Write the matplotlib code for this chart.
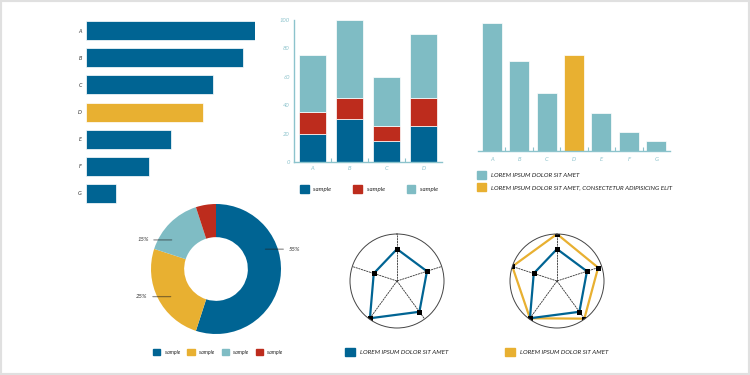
"""Dashboard-style infographic: bars, stacked bars, donut and two radars."""

import numpy as np
import matplotlib.pyplot as plt
from matplotlib.patches import Patch, Rectangle

# ---- data ----
hbar_cats = ["A", "B", "C", "D", "E", "F", "G"]
hbar_vals = [100, 93, 75, 69, 50, 37, 18]
hbar_highlight = "D"

stack_cats = ["A", "B", "C", "D"]
stack_bottom = [20, 30, 15, 25]
stack_mid = [15, 15, 10, 20]
stack_top = [40, 55, 35, 45]
stack_labels = ["sample", "sample", "sample"]

col_cats = ["A", "B", "C", "D", "E", "F", "G"]
col_vals = [100, 70, 45, 75, 30, 15, 8]
col_highlight = "D"
col_legend = ["LOREM IPSUM DOLOR SIT AMET",
              "LOREM IPSUM DOLOR SIT AMET, CONSECTETUR ADIPISICING ELIT"]

donut_vals = [55, 25, 15, 5]
donut_labels = ["sample", "sample", "sample", "sample"]
donut_pct_text = ["55%", "25%", "15%", None]
donut_label_angle = [23, 213, 145, None]   # where the leader line starts (deg)

radar_blue = [0.68, 0.67, 0.81, 0.98, 0.52]
radar_yellow = [1.0, 0.92, 0.99, 0.98, 1.0]
radar_legend = "LOREM IPSUM DOLOR SIT AMET"

BLUE = "#006493"
YELLOW = "#e8b031"
TEAL = "#7fbcc4"
RED = "#bd2c1d"
AXIS = "#8cc3cc"
DARK = "#333333"

plt.rcParams.update({"font.family": ["Lato", "DejaVu Sans"], "font.style": "italic"})

W, H = 750, 375
fig = plt.figure(figsize=(7.5, 3.75), dpi=100)


def px_axes(x0, y0, x1, y1, **kw):
    return fig.add_axes([x0 / W, 1 - y1 / H, (x1 - x0) / W, (y1 - y0) / H], **kw)


def px_legend(handles, labels, x, y, fs=4.2, size=1.6, ncol=1, colsp=2.0, rowsp=1.0):
    fig.legend(handles, labels, loc="center left", bbox_to_anchor=(x / W, 1 - y / H),
               frameon=False, fontsize=fs, handlelength=size, handleheight=size,
               handletextpad=0.8, borderpad=0, borderaxespad=0, ncol=ncol,
               columnspacing=colsp, labelspacing=rowsp, labelcolor="#222222")


# frame around the whole picture
fig.patches.append(Rectangle((0, 0), 1, 1, transform=fig.transFigure, fill=False,
                             edgecolor="#e0e0e0", linewidth=3))

# ---- horizontal bars ----
ax = px_axes(86, 17, 255, 207)
ypos = np.arange(len(hbar_cats))
colors = [YELLOW if c == hbar_highlight else BLUE for c in hbar_cats]
ax.barh(ypos, hbar_vals, height=0.7, color=colors, edgecolor="white", linewidth=0.5)
ax.set_xlim(0, 100)
ax.set_ylim(len(hbar_cats) - 0.5, -0.5)
ax.set_yticks(ypos, hbar_cats, fontsize=4, color="#333333")
ax.set_xticks([])
ax.tick_params(axis="y", length=0, pad=3)
for s in ax.spines.values():
    s.set_visible(False)

# ---- stacked bars ----
ax = px_axes(294, 20, 442, 162)
x = np.arange(len(stack_cats))
b1 = np.array(stack_bottom)
b2 = b1 + np.array(stack_mid)
ax.bar(x, stack_bottom, width=0.73, color=BLUE, edgecolor="white", linewidth=0.5)
ax.bar(x, stack_mid, width=0.73, bottom=b1, color=RED, edgecolor="white", linewidth=0.5)
ax.bar(x, stack_top, width=0.73, bottom=b2, color=TEAL, edgecolor="white", linewidth=0.5)
ax.set_xlim(-0.5, len(stack_cats) - 0.5)
ax.set_ylim(0, 100)
ax.set_yticks([0, 20, 40, 60, 80, 100])
ax.set_xticks(x, stack_cats)
ax.set_xticks(x[:-1] + 0.5, minor=True)
ax.tick_params(axis="both", which="major", length=0, labelsize=4.2, labelcolor=AXIS, pad=3)
ax.tick_params(axis="x", which="minor", direction="in", length=3, color=AXIS, width=0.8)
for side in ["top", "right"]:
    ax.spines[side].set_visible(False)
for side in ["left", "bottom"]:
    ax.spines[side].set_color(AXIS)
    ax.spines[side].set_linewidth(1)
px_legend([Patch(color=c) for c in [BLUE, RED, TEAL]], stack_labels, 300, 189,
          fs=4.4, size=1.4, ncol=3, colsp=3.6)

# ---- column chart ----
ax = px_axes(478, 23, 670, 151)
x = np.arange(len(col_cats))
colors = [YELLOW if c == col_highlight else TEAL for c in col_cats]
ax.bar(x, col_vals, width=0.73, color=colors, edgecolor="white", linewidth=0.5)
ax.set_xlim(-0.5, len(col_cats) - 0.5)
ax.set_ylim(0, 100)
ax.set_yticks([])
ax.set_xticks(x, col_cats)
ax.set_xticks(x[:-1] + 0.5, minor=True)
ax.tick_params(axis="x", which="major", length=0, labelsize=4.2, labelcolor=AXIS, pad=4)
ax.tick_params(axis="x", which="minor", direction="in", length=3, color=AXIS, width=0.8)
for side in ["top", "right", "left"]:
    ax.spines[side].set_visible(False)
ax.spines["bottom"].set_color(AXIS)
ax.spines["bottom"].set_linewidth(1)
px_legend([Patch(color=TEAL), Patch(color=YELLOW)], col_legend, 477, 181,
          fs=4.5, size=1.45, rowsp=0.75)

# ---- donut ----
ax = px_axes(151, 204, 281, 334)
ax.pie(donut_vals, colors=[BLUE, YELLOW, TEAL, RED], startangle=90, counterclock=False,
       radius=1, wedgeprops=dict(width=0.51, edgecolor="none"))
ax.set_xlim(-1, 1)
ax.set_ylim(-1, 1)
ax.set_aspect("equal")
for txt, ang in zip(donut_pct_text, donut_label_angle):
    if txt is None:
        continue
    a = np.deg2rad(ang)
    r = 0.78
    px0, py0 = r * np.cos(a), r * np.sin(a)
    side = 1 if np.cos(a) > 0 else -1
    ax.annotate("", xy=(px0, py0), xytext=(px0 + side * 0.36, py0),
                arrowprops=dict(arrowstyle="-", color="#222222", lw=0.9, alpha=0.5),
                annotation_clip=False)
    ax.text(px0 + side * 0.40, py0, txt, fontsize=4.3, color="#333333",
            ha="left" if side > 0 else "right", va="center", clip_on=False)
px_legend([Patch(color=c) for c in [BLUE, YELLOW, TEAL, RED]], donut_labels, 153, 352,
          fs=3.8, size=1.4, ncol=4, colsp=1.4)


# ---- radars ----
def radar(x0, series, colors):
    ax = px_axes(x0, 234, x0 + 94, 328, projection="polar")
    ax.set_theta_zero_location("N")
    ax.set_theta_direction(-1)
    n = len(series[0])
    theta = np.linspace(0, 2 * np.pi, n, endpoint=False)
    for t in theta:
        ax.plot([t, t], [0, 1], color=DARK, lw=0.6, dashes=(2.5, 0.8))
    for vals, c in zip(series, colors):
        tt = np.append(theta, theta[0])
        vv = np.append(vals, vals[0])
        ax.plot(tt, vv, color=c, lw=1.6)
    for vals in series:
        ax.plot(theta, vals, marker="s", color="black", ms=3.6, mew=0, ls="none")
    ax.set_ylim(0, 1)
    ax.set_xticks([])
    ax.set_yticks([])
    ax.grid(False)
    ax.spines["polar"].set_color("#444444")
    ax.spines["polar"].set_linewidth(0.7)


radar(350, [radar_blue], [BLUE])
radar(510, [radar_yellow, radar_blue], [YELLOW, BLUE])
px_legend([Patch(color=BLUE)], [radar_legend], 345, 352, fs=4.5, size=1.6)
px_legend([Patch(color=YELLOW)], [radar_legend], 505, 352, fs=4.5, size=1.6)

fig.savefig("out.png", dpi=100)
